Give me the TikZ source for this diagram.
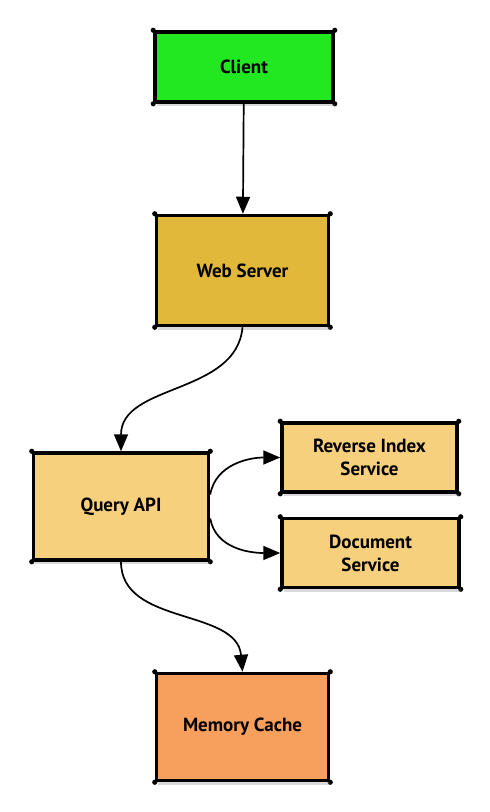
\documentclass[tikz,border=0pt]{standalone}
\usepackage{fontspec}
\setmainfont{PT Sans}
\usepackage{tikz}
\usetikzlibrary{positioning,shadows,arrows.meta}

\definecolor{clientgreen}{RGB}{34,232,34}
\definecolor{servergold}{RGB}{226,184,58}
\definecolor{apiwheat}{RGB}{247,208,126}
\definecolor{cacheorange}{RGB}{247,160,94}

\begin{document}
\begin{tikzpicture}[auto, line width=1.7pt,
		link/.style={-{Triangle[length=17pt,width=14pt]}},
		box node/.style={rectangle,draw,line width=3.5pt,align=center,
			font=\fontsize{19}{23}\selectfont\bfseries,
			drop shadow={opacity=0.3,shadow xshift=1.5pt,shadow yshift=-4pt},
			append after command={\pgfextra{
				\fill (\tikzlastnode.north west) circle (2.6pt);
				\fill (\tikzlastnode.north east) circle (2.6pt);
				\fill (\tikzlastnode.south west) circle (2.6pt);
				\fill (\tikzlastnode.south east) circle (2.6pt);}}}]

		\useasboundingbox (0,0) rectangle (490pt,-812pt);

		\node[box node] [fill=clientgreen, minimum width=178pt, minimum height=70pt] (client) at (244pt,-67pt) {Client};
		\node[box node] [fill=servergold, minimum width=172pt, minimum height=110pt] (web) [below=110pt of client, xshift=-1.5pt] {Web Server};
		\node[box node] [fill=apiwheat, minimum width=175pt, minimum height=107pt] (query) [below=124pt of web, xshift=-121.5pt] {Query API};
		\node[box node] [fill=apiwheat, minimum width=175pt, minimum height=69pt] (reverse) [right=70pt of query, yshift=49pt] {Reverse Index\\Service};
		\node[box node] [fill=apiwheat, minimum width=177pt, minimum height=69pt] (document) [below=23pt of reverse, xshift=1pt] {Document\\Service};
		\node[box node] [fill=cacheorange, minimum width=172pt, minimum height=107pt] (cache) [below=110pt of query, xshift=121.5pt] {Memory Cache};

		\path
		(client) [link] edge (web)
		(web.south) [link] edge [out=-95, in=90] (query.north)
		([yshift=12pt]query.east) [link] edge [out=80, in=180] (reverse.west)
		([yshift=-12pt]query.east) [link] edge [out=-80, in=180] (document.west)
		(query.south) [link] edge [out=-90, in=95] (cache.north);
		\end{tikzpicture}
\end{document}
